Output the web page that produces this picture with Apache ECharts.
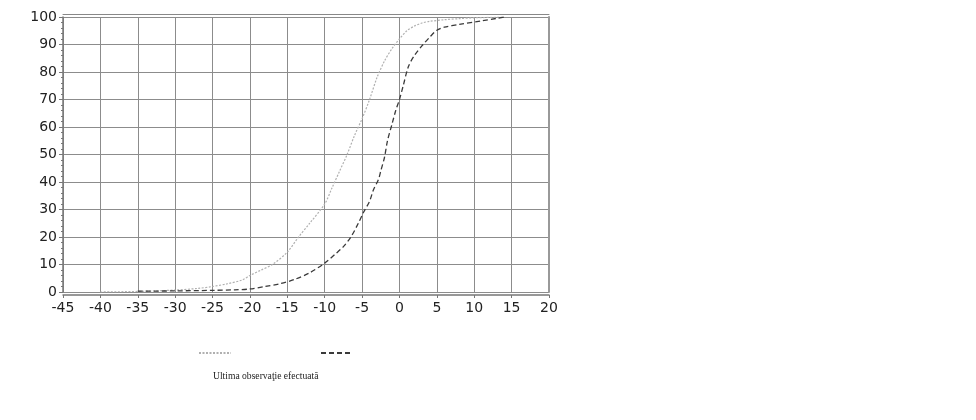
<!DOCTYPE html>
<html><head><meta charset="utf-8">
<script src="https://cdn.jsdelivr.net/npm/echarts@6/dist/echarts.min.js"></script>
<style>html,body{margin:0;padding:0;background:#fff}#c{width:976px;height:420px}</style>
</head><body><div id="c"></div>
<script>
const xTicks = [-45,-40,-35,-30,-25,-20,-15,-10,-5,0,5,10,15,20];
const yTicks = [0,10,20,30,40,50,60,70,80,90,100];
const lightX = [-40,-35,-30,-27,-25,-23,-21,-20,-18.5,-17,-15,-13.5,-12,-10,-9,-8,-7,-6,-5,-4,-3,-2,-1,0,1,2,3,4,6,8,10,14];
const lightY = [0,0.2,0.7,1.3,2,3,4.4,6,8,10,14.5,20,25,32,38,44,50,57,63,70,78,84,88.5,92,95,96.7,97.8,98.4,99,99.4,99.7,100];
const darkX = [-35,-30,-25,-22,-20,-18,-16,-14,-12,-10,-8.5,-7.5,-6.5,-5.5,-4.8,-4,-3.5,-2.8,-2.5,-2,-1.6,-1,-0.5,0,0.5,1.2,2,3,4,5,6,8,11,13,14];
const darkY = [0.3,0.4,0.6,0.8,1.1,2,3,4.6,7,10.5,14,16.5,20,25,29,33,37,41,44,49,55,61,66,70,75,82,86,89.5,92.5,95.2,96.3,97.3,98.6,99.5,100];
const seriesNames = ['Serie 1','Serie 2'];
const legendText = 'Ultima observaţie efectuată';

const zip = (xs, ys) => xs.map((x, i) => [x, ys[i]]);
const chart = echarts.init(document.getElementById('c'));
const lab = {color:'#222', fontSize:14, fontFamily:'DejaVu Sans'};
chart.setOption({
  animation:false,
  grid:{left:63, right:427, top:17, bottom:128, show:false},
  title:{text:legendText, left:208, top:366, textStyle:{fontFamily:'Liberation Serif', fontSize:9.6, fontWeight:'normal', color:'#222'}},
  legend:{left:193, top:344, itemWidth:32, itemHeight:8, itemGap:88, formatter:()=>'', data:seriesNames,
    textStyle:{fontSize:1}, itemStyle:{opacity:0}},
  xAxis:[{type:'value', min:xTicks[0], max:xTicks[xTicks.length-1], interval:5, offset:3,
    axisLine:{onZero:false, lineStyle:{color:'#777', width:1.5}}, axisTick:{show:true, length:3, lineStyle:{color:'#777'}},
    axisLabel:{...lab, margin:6},
    splitLine:{show:true, lineStyle:{color:'#8c8c8c', width:1}}},
    {type:'value', position:'top', min:xTicks[0], max:xTicks[xTicks.length-1], interval:5, offset:3,
    axisLine:{onZero:false, lineStyle:{color:'#888', width:1}}, axisTick:{show:false}, axisLabel:{show:false}, splitLine:{show:false}}],
  yAxis:[{type:'value', min:0, max:100, interval:10,
    axisLine:{show:true, onZero:false, lineStyle:{color:'#777', width:1.5}}, axisTick:{show:true, length:4, lineStyle:{color:'#777'}},
    minorTick:{show:true, splitNumber:5, length:2, lineStyle:{color:'#777'}},
    axisLabel:{...lab, margin:6},
    splitLine:{show:true, lineStyle:{color:'#8c8c8c', width:1}}},
    {type:'value', position:'right', min:0, max:100, interval:10,
    axisLine:{show:true, onZero:false, lineStyle:{color:'#999', width:2}}, axisTick:{show:false}, axisLabel:{show:false}, splitLine:{show:false}}],
  series:[
    {name:seriesNames[0], type:'line', smooth:0.3, symbol:'none', data:zip(lightX, lightY),
     lineStyle:{color:'#b0b0b0', width:1.2, type:[2,1.5]}, itemStyle:{color:'#b0b0b0'}},
    {name:seriesNames[1], type:'line', smooth:0.3, symbol:'none', data:zip(darkX, darkY),
     lineStyle:{color:'#3a3a3a', width:1.3, type:[5,3]}, itemStyle:{color:'#3a3a3a'}}
  ]
});
</script></body></html>
